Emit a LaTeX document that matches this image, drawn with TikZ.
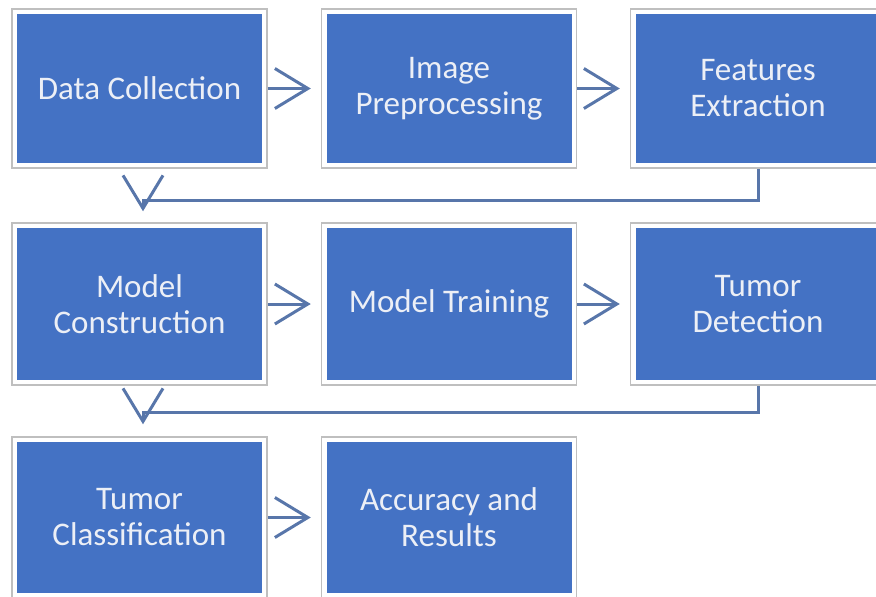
\documentclass[tikz,border=0pt]{standalone}
\usepackage{fontspec}
\setmainfont{Carlito}
\usetikzlibrary{arrows.meta}
\definecolor{boxblue}{RGB}{68,114,196}
\definecolor{framegrey}{RGB}{191,191,191}
\definecolor{arrowcol}{RGB}{88,118,170}
\definecolor{txtcol}{RGB}{236,239,246}
\begin{document}
\begin{tikzpicture}[x=1pt,y=-1pt,
  stepbox/.style={rectangle, draw=framegrey, line width=1.5pt, fill=white,
    minimum width=255pt, minimum height=#1, inner sep=0pt, align=center,
    text=txtcol, font=\fontsize{33}{36}\selectfont,
    path picture={\fill[boxblue] ([shift={(5pt,5pt)}]path picture bounding box.south west)
      rectangle ([shift={(-5pt,-5pt)}]path picture bounding box.north east);}},
  conn/.style={draw=arrowcol, line width=3pt,
    -{Straight Barb[length=33pt,width=40pt,line width=3pt]}}]
\useasboundingbox (0,0) rectangle (876,597);
% row 1
\node[stepbox=159pt] (dc) at (139.5,88.5) {Data Collection};
\node[stepbox=159pt] (ip) at (449,88.5) {Image\\Preprocessing};
\node[stepbox=159pt] (fe) at (758,88.5) {Features\\Extraction};
% row 2
\node[stepbox=162pt] (mc) at (139.5,304) {Model\\Construction};
\node[stepbox=162pt] (mt) at (449,304) {Model Training};
\node[stepbox=162pt] (td) at (758,304) {Tumor\\Detection};
% row 3
\node[stepbox=161pt] (tc) at (139.5,517.5) {Tumor\\Classification};
\node[stepbox=161pt] (ar) at (449,517.5) {Accuracy and\\Results};
% junctions
\coordinate (j1) at (143,200);
\coordinate (j2) at (143,412);
% connectors
\draw[conn, shorten >=10pt] (dc.east) -- (ip.west);
\draw[conn, shorten >=10pt] (ip.east) -- (fe.west);
\draw[conn, shorten >=11pt] (fe.south) |- (j1) -- (j1 |- mc.north);
\draw[conn, shorten >=10pt] (mc.east) -- (mt.west);
\draw[conn, shorten >=10pt] (mt.east) -- (td.west);
\draw[conn, shorten >=12pt] (td.south) |- (j2) -- (j2 |- tc.north);
\draw[conn, shorten >=10pt] (tc.east) -- (ar.west);
\end{tikzpicture}
\end{document}
